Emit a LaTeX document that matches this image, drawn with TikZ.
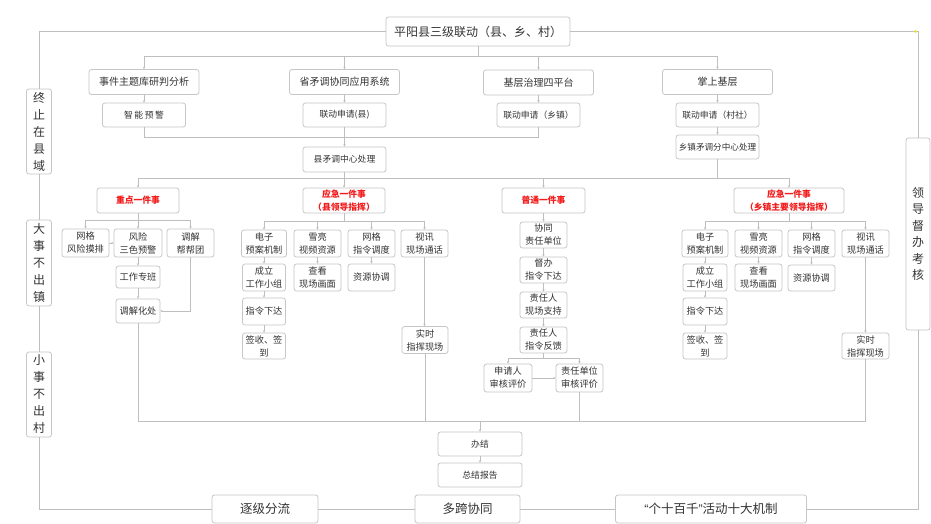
\documentclass[tikz,border=0pt]{standalone}
\usepackage{fontspec}
\setmainfont{Noto Sans CJK SC}
\newfontfamily\qfont{Liberation Sans}
\usetikzlibrary{arrows.meta,calc}
\definecolor{bd}{HTML}{C6C6C6}
\definecolor{lnc}{HTML}{BEBEBE}
\definecolor{tx}{HTML}{333333}
\definecolor{rd}{HTML}{F21A1A}
\definecolor{ylw}{HTML}{E8E020}
\tikzset{
  box/.style={draw=bd, line width=0.8pt, rounded corners=2.5pt, fill=white, inner sep=0pt, align=center, text=tx},
  fnine/.style={font=\fontsize{9.2}{13}\selectfont},
  fthree/.style={font=\fontsize{8.8}{12}\selectfont},
  ften/.style={font=\fontsize{10}{12}\selectfont},
  ftw/.style={font=\fontsize{12}{14}\selectfont},
  fbig/.style={font=\fontsize{12.5}{15}\selectfont},
  fcol/.style={font=\fontsize{12}{17}\selectfont},
  redt/.style={text=rd, font=\fontsize{8.8}{12.5}\selectfont\bfseries},
  conn/.style={draw=lnc, line width=0.7pt},
  arr/.style={conn, -{Stealth[length=2.4pt,width=2.4pt]}},
}
\begin{document}
\begin{tikzpicture}[x=1pt,y=-1pt]
\useasboundingbox[fill=white] (0,0) rectangle (931,524);

% title
\node[box,minimum width=184pt,minimum height=29pt,ftw] (title) at (478,31.5) {平阳县三级联动（县、乡、村）};

% side columns
\node[box,minimum width=25pt,minimum height=85pt,fcol] (L1) at (39,131.5) {终\\止\\在\\县\\域};
\node[box,minimum width=25pt,minimum height=86pt,fcol] (L2) at (39,263) {大\\事\\不\\出\\镇};
\node[box,minimum width=25pt,minimum height=85pt,fcol] (L3) at (39,394.5) {小\\事\\不\\出\\村};
\node[box,minimum width=24pt,minimum height=192pt,font=\fontsize{12}{16.5}\selectfont] (R) at (918,234) {领\\导\\督\\办\\考\\核};

% bottom row
\node[box,minimum width=106pt,minimum height=28pt,fbig] (zj) at (265,509) {逐级分流};
\node[box,minimum width=105pt,minimum height=28pt,fbig] (dk) at (467.5,509) {多跨协同};
\node[box,minimum width=191pt,minimum height=28pt,fbig] (gs) at (711,509) {{\qfont“}个十百千{\qfont”}活动十大机制};

% level 2
\node[box,minimum width=110pt,minimum height=25pt,ften] (sj) at (144,82) {事件主题库研判分析};
\node[box,minimum width=110pt,minimum height=25pt,ften] (sm) at (344.5,82) {省矛调协同应用系统};
\node[box,minimum width=110pt,minimum height=25pt,ften] (jc) at (538.5,82.5) {基层治理四平台};
\node[box,minimum width=110pt,minimum height=25pt,ften] (zs) at (717.5,82) {掌上基层};

% level 3
\node[box,minimum width=83pt,minimum height=24pt,fthree] (zn) at (144,115) {智\hspace{1.6pt}能\hspace{1.6pt}预\hspace{1.6pt}警};
\node[box,minimum width=83pt,minimum height=24pt,fthree] (lx) at (344.5,115) {联动申请(县)};
\node[box,minimum width=83pt,minimum height=24pt,fthree] (lz) at (538.5,115) {联动申请（乡镇）};
\node[box,minimum width=83pt,minimum height=24pt,fthree] (lc) at (717.5,115) {联动申请（村社）};
\node[box,minimum width=83pt,minimum height=25pt,fthree] (xz) at (344.5,159.5) {县矛调中心处理};
\node[box,minimum width=83pt,minimum height=24pt,font=\fontsize{8.6}{12}\selectfont] (xzf) at (717.5,147) {乡镇矛调分中心处理};

% level 4 (red)
\node[box,minimum width=82pt,minimum height=25pt,redt] (zd) at (138,200.5) {重点一件事};
\node[box,minimum width=82pt,minimum height=25pt,redt] (yj1) at (344,200.5) {应急一件事\\（县领导指挥）};
\node[box,minimum width=83pt,minimum height=25pt,redt] (pt) at (543.5,200.5) {普通一件事};
\node[box,minimum width=110pt,minimum height=25pt,redt] (yj2) at (789,200.5) {应急一件事\\（乡镇主要领导指挥）};

% 重点一件事 branch
\node[box,minimum width=47pt,minimum height=28pt,fnine] (wg) at (85.5,243) {网格\\风险摸排};
\node[box,minimum width=48pt,minimum height=28pt,fnine] (fx) at (138,243) {风险\\三色预警};
\node[box,minimum width=47pt,minimum height=28pt,fnine] (tj) at (190.5,243) {调解\\帮帮团};
\node[box,minimum width=44pt,minimum height=22pt,fnine] (gz) at (138,277) {工作专班};
\node[box,minimum width=44pt,minimum height=24pt,fnine] (tjh) at (138,311) {调解化处};

% 县 应急 branch
\node[box,minimum width=45pt,minimum height=27pt,fnine] (dz1) at (264,243.5) {电子\\预案机制};
\node[box,minimum width=47pt,minimum height=27pt,fnine] (xl1) at (317.5,243.5) {雪亮\\视频资源};
\node[box,minimum width=47pt,minimum height=27pt,fnine] (wz1) at (371.5,243.5) {网格\\指令调度};
\node[box,minimum width=47pt,minimum height=27pt,fnine] (sx1) at (424.5,243.5) {视讯\\现场通话};
\node[box,minimum width=43pt,minimum height=27pt,fnine] (cl1) at (264,277.5) {成立\\工作小组};
\node[box,minimum width=43pt,minimum height=27pt,fnine] (zl1) at (264,311.5) {指令下达};
\node[box,minimum width=43pt,minimum height=26pt,fnine] (qs1) at (264,346) {签收、签\\到};
\node[box,minimum width=47pt,minimum height=27pt,fnine] (ck1) at (317.5,277.5) {查看\\现场画面};
\node[box,minimum width=47pt,minimum height=27pt,fnine] (zy1) at (371.5,277.5) {资源协调};
\node[box,minimum width=46pt,minimum height=27pt,fnine] (ss1) at (425,340) {实时\\指挥现场};

% 普通一件事 branch
\node[box,minimum width=47pt,minimum height=26pt,fnine] (xt) at (543.5,235) {协同\\责任单位};
\node[box,minimum width=47pt,minimum height=26pt,fnine] (db) at (543.5,270) {督办\\指令下达};
\node[box,minimum width=47pt,minimum height=26pt,fnine] (zr) at (543.5,305) {责任人\\现场支持};
\node[box,minimum width=47pt,minimum height=26pt,fnine] (zf) at (543.5,340) {责任人\\指令反馈};
\node[box,minimum width=48pt,minimum height=28pt,fnine] (sq) at (508,378) {申请人\\审核评价};
\node[box,minimum width=47pt,minimum height=28pt,fnine] (zp) at (579.5,378) {责任单位\\审核评价};

% 乡镇 应急 branch
\node[box,minimum width=46pt,minimum height=27pt,fnine] (dz2) at (705,243.5) {电子\\预案机制};
\node[box,minimum width=47pt,minimum height=27pt,fnine] (xl2) at (758.5,243.5) {雪亮\\视频资源};
\node[box,minimum width=47pt,minimum height=27pt,fnine] (wz2) at (811.5,243.5) {网格\\指令调度};
\node[box,minimum width=47pt,minimum height=27pt,fnine] (sx2) at (865.5,243.5) {视讯\\现场通话};
\node[box,minimum width=44pt,minimum height=27pt,fnine] (cl2) at (705,277.5) {成立\\工作小组};
\node[box,minimum width=44pt,minimum height=27pt,fnine] (zl2) at (705,311.5) {指令下达};
\node[box,minimum width=44pt,minimum height=26pt,fnine] (qs2) at (705,346) {签收、签\\到};
\node[box,minimum width=47pt,minimum height=27pt,fnine] (ck2) at (758.5,277.5) {查看\\现场画面};
\node[box,minimum width=47pt,minimum height=26pt,fnine] (zy2) at (811.5,278) {资源协调};
\node[box,minimum width=47pt,minimum height=26pt,fnine] (ss2) at (865.5,346) {实时\\指挥现场};

% end
\node[box,minimum width=84pt,minimum height=24pt,fthree] (bj) at (480,444) {办结};
\node[box,minimum width=84pt,minimum height=24pt,fthree] (zb) at (480,475) {总结报告};

% bus coordinates
\coordinate (b1) at (0,56);
\coordinate (b2) at (0,137);
\coordinate (b3) at (0,178);
\coordinate (b4) at (0,220);
\coordinate (b5) at (0,221);
\coordinate (b6) at (0,358);
\coordinate (b7) at (0,421);
\coordinate (yc) at (918,32);

% outer frame
\draw[conn] (title.west) -| (L1.north);
\draw[conn] (L1.south) -- (L2.north);
\draw[conn] (L2.south) -- (L3.north);
\draw[conn] (L3.south) |- (zj.west);
\draw[conn] (zj.east) -- (dk.west);
\draw[conn] (dk.east) -- (gs.west);
\draw[conn] (gs.east) -| (R.south);
\draw[conn] (title.east) -- (title.east -| yc) -- (R.north);
\fill[ylw] ($(title.east -| yc)+(-2.5,0)$) circle (1.5pt);

% title to level 2
\draw[conn] (title.south) -- (title.south |- b1);
\draw[conn] (sj.north |- b1) -- (zs.north |- b1);
\foreach \n in {sj,sm,jc,zs} \draw[arr] (\n.north |- b1) -- (\n.north);

% level 2 to 3
\draw[arr] (sj) -- (zn);
\draw[arr] (sm) -- (lx);
\draw[arr] (jc) -- (lz);
\draw[arr] (zs) -- (lc);
\draw[conn] (zn.south) -- (zn.south |- b2) -- (lz.south |- b2) -- (lz.south);
\draw[arr] (lx) -- (xz);
\draw[arr] (lc) -- (xzf);

% to red level
\draw[conn] (xz.south) -- (xz.south |- b3);
\draw[conn] (xzf.south) -- (xzf.south |- b3);
\draw[conn] (zd.north |- b3) -- (yj2.north |- b3);
\foreach \n in {zd,yj1,pt,yj2} \draw[arr] (\n.north |- b3) -- (\n.north);

% 重点一件事
\draw[conn] (zd.south) -- (zd.south |- b4);
\draw[conn] (wg.north |- b4) -- (tj.north |- b4);
\foreach \n in {wg,fx,tj} \draw[arr] (\n.north |- b4) -- (\n.north);
\draw[arr] (wg) -- (fx);
\draw[arr] (fx) -- (gz);
\draw[arr] (gz) -- (tjh);
\draw[arr] (tj.south) |- (tjh.east);

% 县 应急
\draw[conn] (yj1.south) -- (yj1.south |- b5);
\draw[conn] (dz1.north |- b5) -- (sx1.north |- b5);
\foreach \n in {dz1,xl1,wz1,sx1} \draw[arr] (\n.north |- b5) -- (\n.north);
\draw[arr] (dz1) -- (cl1);
\draw[arr] (cl1) -- (zl1);
\draw[arr] (zl1) -- (qs1);
\draw[arr] (xl1) -- (ck1);
\draw[arr] (wz1) -- (zy1);
\draw[arr] (sx1.south) -- (sx1.south |- ss1.north);

% 普通一件事
\draw[arr] (pt) -- (xt);
\draw[arr] (xt) -- (db);
\draw[arr] (db) -- (zr);
\draw[arr] (zr) -- (zf);
\draw[conn] (zf.south) -- (zf.south |- b6);
\draw[conn] (sq.north |- b6) -- (zp.north |- b6);
\foreach \n in {sq,zp} \draw[arr] (\n.north |- b6) -- (\n.north);
\draw[arr] (sq) -- (zp);

% 乡镇 应急
\draw[conn] (yj2.south) -- (yj2.south |- b5);
\draw[conn] (dz2.north |- b5) -- (sx2.north |- b5);
\foreach \n in {dz2,xl2,wz2,sx2} \draw[arr] (\n.north |- b5) -- (\n.north);
\draw[arr] (dz2) -- (cl2);
\draw[arr] (cl2) -- (zl2);
\draw[arr] (zl2) -- (qs2);
\draw[arr] (xl2) -- (ck2);
\draw[arr] (wz2) -- (zy2);
\draw[arr] (sx2) -- (ss2);

% converge to 办结
\foreach \n in {tjh,ss1,zp,ss2} \draw[conn] (\n.south) -- (\n.south |- b7);
\draw[conn] (tjh.south |- b7) -- (ss2.south |- b7);
\draw[arr] (bj.north |- b7) -- (bj.north);
\draw[arr] (bj) -- (zb);
\end{tikzpicture}
\end{document}
